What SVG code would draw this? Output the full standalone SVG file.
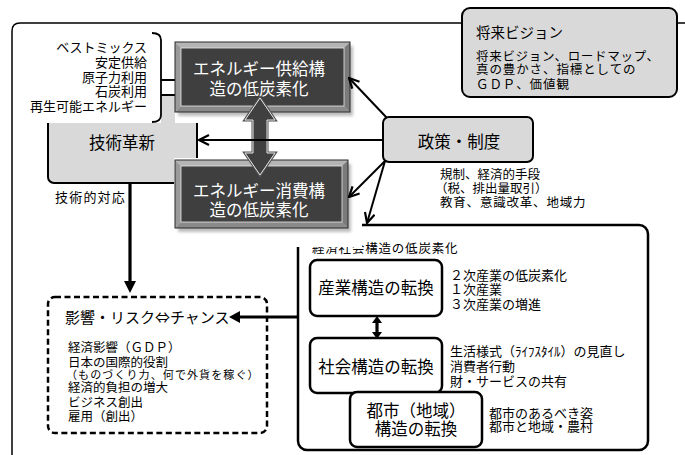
<svg xmlns="http://www.w3.org/2000/svg" width="685" height="455" viewBox="0 0 685 455">
<style>
text{font-family:"Noto Sans CJK JP","Noto Sans CJK SC",sans-serif;fill:#000}
.s12{font-size:12.5px}
.s13{font-size:13px}
.s16{font-size:16.5px}
.w{fill:#fff}
.gray{fill:#d9d9d9;stroke:#000;stroke-width:2}
.wbox{fill:#fff;stroke:#000;stroke-width:2.5}
.conn{stroke:#000;fill:none}
.thin{stroke-width:2}
.thick{stroke-width:3.2}
.bt{fill:#b4b4b4}.bl{fill:#9a9a9a}.bb{fill:#8a8a8a}.br{fill:#7a7a7a}
.inner{fill:#3f3f3f;stroke:#e8e8e8;stroke-width:0.8}
.outer{fill:none;stroke:#2a2a2a;stroke-width:1}
</style>
<defs>
<marker id="v" viewBox="0 0 12 12" refX="11" refY="6" markerWidth="12" markerHeight="12" markerUnits="userSpaceOnUse" orient="auto">
<path d="M1,1 L11,6 L1,11" fill="none" stroke="#000" stroke-width="2.2"/>
</marker>
<filter id="blur" x="-10%" y="-10%" width="120%" height="130%"><feGaussianBlur stdDeviation="1.5"/></filter>
</defs>

<rect width="685" height="455" fill="#fff"/>

<!-- outer frame -->
<path d="M12,455 V31 Q12,23 20,23 H685" fill="none" stroke="#000" stroke-width="1.5"/>

<!-- vision -->
<g id="vision">
<rect x="462" y="8" width="215" height="89" rx="8" class="gray"/>
<text x="476" y="38" style="font-size:14.5px">将来ビジョン</text>
<text x="476" y="61" class="s12" letter-spacing="0.7">将来ビジョン、ロードマップ、</text>
<text x="476" y="74" class="s12" letter-spacing="0.9">真の豊かさ、指標としての</text>
<text x="476" y="89" class="s12" letter-spacing="0.9">ＧＤＰ、価値観</text>
</g>

<!-- tech innovation -->
<g id="tech">
<rect x="48" y="95" width="149" height="88" rx="6" class="gray"/>
<text x="122" y="149" class="s16" text-anchor="middle">技術革新</text>
</g>

<!-- list with bracket -->
<g id="list">
<rect x="15" y="30" width="146" height="93" class="w"/>
<text x="147" y="52" class="s13" text-anchor="end">ベストミックス</text>
<text x="147" y="67" class="s13" text-anchor="end">安定供給</text>
<text x="147" y="82" class="s13" text-anchor="end">原子力利用</text>
<text x="147" y="96" class="s13" text-anchor="end">石炭利用</text>
<text x="147" y="111" class="s13" text-anchor="end">再生可能エネルギー</text>
<path d="M152,33 Q161,33 161,40 V115 Q161,122 152,122 M161,80 H175" fill="none" stroke="#000" stroke-width="1.8"/>
</g>

<!-- supply box -->
<g id="supply">
<rect x="175" y="38" width="180" height="85" class="w"/>
<rect x="178" y="46" width="175" height="70" fill="#bdbdbd" filter="url(#blur)"/>
<polygon class="bt" points="175,42 350,42 344,48 181,48"/>
<polygon class="bl" points="175,42 181,48 181,106 175,112"/>
<polygon class="bb" points="175,112 181,106 344,106 350,112"/>
<polygon class="br" points="350,42 350,112 344,106 344,48"/>
<rect x="181" y="48" width="163" height="58" class="inner"/>
<rect x="175" y="42" width="175" height="70" class="outer"/>
<text x="259" y="75" class="s16" text-anchor="middle" style="fill:#fff">エネルギー供給構</text>
<text x="259" y="95" class="s16" text-anchor="middle" style="fill:#fff">造の低炭素化</text>
</g>

<!-- socio frame -->
<g id="socio">
<rect x="298" y="225" width="350" height="225" rx="9" fill="#fff" stroke="#000" stroke-width="2.5"/>
<text x="312" y="253" class="s12" letter-spacing="0.8">経済社会構造の低炭素化</text>
<rect x="174" y="158" width="188" height="89" class="w"/>
</g>

<!-- consumer box -->
<g id="consume">
<rect x="178" y="164" width="173" height="68" fill="#bdbdbd" filter="url(#blur)"/>
<polygon class="bt" points="175,160 348,160 342,166 181,166"/>
<polygon class="bl" points="175,160 181,166 181,222 175,228"/>
<polygon class="bb" points="175,228 181,222 342,222 348,228"/>
<polygon class="br" points="348,160 348,228 342,222 342,166"/>
<rect x="181" y="166" width="161" height="56" class="inner"/>
<rect x="175" y="160" width="173" height="68" class="outer"/>
<text x="259" y="197" class="s16" text-anchor="middle" style="fill:#fff">エネルギー消費構</text>
<text x="259" y="216" class="s16" text-anchor="middle" style="fill:#fff">造の低炭素化</text>
</g>

<!-- policy -->
<g id="policy">
<rect x="383" y="117" width="150" height="45" rx="6" class="gray"/>
<text x="459" y="148" class="s16" text-anchor="middle">政策・制度</text>
<text x="440" y="179" class="s12">規制、経済的手段</text>
<text x="435" y="193" class="s12">（税、排出量取引）</text>
<text x="440" y="207" class="s12" letter-spacing="0.8">教育、意識改革、地域力</text>
</g>

<!-- industry -->
<g id="industry">
<rect x="310" y="260" width="132" height="56" rx="7" class="wbox"/>
<text x="376" y="294" class="s16" text-anchor="middle">産業構造の転換</text>
<text x="450" y="280" class="s13">２次産業の低炭素化</text>
<text x="450" y="294" class="s13">１次産業</text>
<text x="450" y="309" class="s13">３次産業の増進</text>
</g>

<!-- society -->
<g id="society">
<rect x="310" y="338" width="132" height="55" rx="7" class="wbox"/>
<text x="376" y="373" class="s16" text-anchor="middle">社会構造の転換</text>
<text x="450" y="356" class="s13">生活様式（ﾗｲﾌｽﾀｲﾙ）の見直し</text>
<text x="450" y="371" class="s13">消費者行動</text>
<text x="450" y="386" class="s13">財・サービスの共有</text>
</g>

<!-- urban -->
<g id="urban">
<rect x="350" y="392" width="132" height="55" rx="7" class="wbox"/>
<text x="416" y="417" class="s16" text-anchor="middle">都市（地域）</text>
<text x="416" y="435" class="s16" text-anchor="middle">構造の転換</text>
<text x="489" y="418" class="s13">都市のあるべき姿</text>
<text x="489" y="431" class="s13">都市と地域・農村</text>
</g>

<!-- impact -->
<g id="impact">
<rect x="48" y="297" width="219" height="136" rx="7" fill="#fff" stroke="#000" stroke-width="2.5" stroke-dasharray="6,3.5"/>
<text x="65" y="323" style="font-size:15px">影響・リスク⇔チャンス</text>
<text x="68" y="352" class="s12">経済影響（ＧＤＰ）</text>
<text x="68" y="367" class="s12">日本の国際的役割</text>
<text x="66" y="379" style="font-size:11px" letter-spacing="1.1">（ものづくり力、何で外貨を稼ぐ）</text>
<text x="68" y="392" class="s12">経済的負担の増大</text>
<text x="68" y="407" class="s12">ビジネス創出</text>
<text x="68" y="421" class="s12">雇用（創出）</text>
</g>

<text x="55" y="202" class="s13" letter-spacing="1.2">技術的対応</text>

<!-- connectors -->
<g id="connectors">
<polygon points="260,98 275,120 267,120 267,153 275,153 260,175 245,153 253,153 253,120 245,120" fill="#404040" stroke="#555" stroke-width="3" stroke-linejoin="miter"/>
<polygon points="260,98 275,120 267,120 267,153 275,153 260,175 245,153 253,153 253,120 245,120" fill="#404040" stroke="#e6e6e6" stroke-width="1"/>
<line x1="387" y1="118" x2="349" y2="78" class="conn thin" marker-end="url(#v)"/>
<line x1="383" y1="140" x2="199" y2="140" class="conn thin" marker-end="url(#v)"/>
<line x1="385" y1="161" x2="349" y2="197" class="conn thin" marker-end="url(#v)"/>
<line x1="385" y1="161" x2="367" y2="223" class="conn thin" marker-end="url(#v)"/>
<line x1="130" y1="183" x2="130" y2="283" class="conn thick"/>
<polygon points="124,281 136,281 130,293"/>
<line x1="298" y1="317" x2="238" y2="317" class="conn thick"/>
<polygon points="240,311 240,323 229,317"/>
<line x1="377" y1="320" x2="377" y2="335" class="conn thick"/>
<polygon points="372,323 382,323 377,316"/>
<polygon points="372,332 382,332 377,339"/>
</g>
</svg>
